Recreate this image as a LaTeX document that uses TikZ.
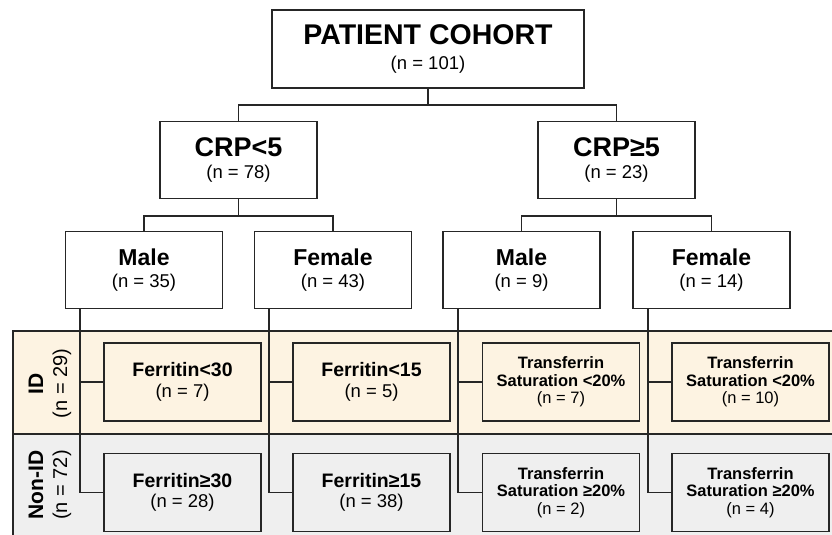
\documentclass[tikz,border=0pt]{standalone}
\usepackage{fontspec}
\setmainfont{Liberation Sans}
\definecolor{linec}{HTML}{262626}
\definecolor{idfill}{HTML}{FDF3E2}
\definecolor{nidfill}{HTML}{EFEFEF}
\newcommand\hdA{\fontsize{28.5}{22}\selectfont\bfseries}
\newcommand\hdB{\fontsize{27}{21}\selectfont\bfseries}
\newcommand\hdC{\fontsize{23}{21.5}\selectfont\bfseries}
\newcommand\hdD{\fontsize{19.5}{19.5}\selectfont\bfseries}
\newcommand\hdE{\fontsize{21}{24}\selectfont\bfseries}
\begin{document}
\begin{tikzpicture}[x=1pt,y=-1pt,
  box/.style={draw=linec, line width=1.8pt, fill=white, minimum width=157, minimum height=77, align=center, inner sep=0pt, text=black},
  topbox/.style={box, minimum width=312, minimum height=78, font=\fontsize{18.5}{22}\selectfont},
  lvlbox/.style={box, font=\fontsize{18.5}{21}\selectfont},
  sexbox/.style={box, font=\fontsize{18.5}{21.5}\selectfont},
  ferbox/.style={box, minimum height=78, font=\fontsize{18.5}{19.5}\selectfont},
  trbox/.style={box, minimum height=78, font=\fontsize{16.5}{17.5}\selectfont},
  idb/.style={fill=idfill},
  nidb/.style={fill=nidfill},
  conn/.style={draw=linec, line width=1.8pt},
  sidelab/.style={rotate=90, align=center, inner sep=0pt, font=\fontsize{20}{24}\selectfont, text=black}
]
\useasboundingbox (0,0) rectangle (832,535);
\fill[white] (0,0) rectangle (832,535);
% bands
\fill[idfill] (13,331) rectangle (832,434);
\fill[nidfill] (13,434) rectangle (832,535);
\draw[conn] (13,535) -- (13,331) -- (832,331);
\draw[conn] (13,434) -- (832,434);

% boxes
\node[topbox] (top) at (428,49) {{\hdA PATIENT COHORT}\\[3pt](n = 101)};
\node[lvlbox] (crpa) at (238.5,160) {{\hdB CRP<5}\\[1.5pt](n = 78)};
\node[lvlbox] (crpb) at (616.5,160) {{\hdB CRP≥5}\\[1.5pt](n = 23)};
\node[sexbox] (ma) at (144,270) {{\hdC Male}\\[1pt](n = 35)};
\node[sexbox] (fa) at (333,270) {{\hdC Female}\\[1pt](n = 43)};
\node[sexbox] (mb) at (521.5,270) {{\hdC Male}\\[1pt](n = 9)};
\node[sexbox] (fb) at (711.5,270) {{\hdC Female}\\[1pt](n = 14)};

\node[ferbox, idb] (ida) at (182.5,382) {{\hdD Ferritin<30}\\[1pt](n = 7)};
\node[ferbox, idb] (idb) at (371.5,382) {{\hdD Ferritin<15}\\[1pt](n = 5)};
\node[trbox, idb] (idc) at (561,382) {{\bfseries Transferrin}\\{\bfseries Saturation <20\%}\\(n = 7)};
\node[trbox, idb] (idd) at (750.5,382) {{\bfseries Transferrin}\\{\bfseries Saturation <20\%}\\(n = 10)};

\node[ferbox, nidb] (nida) at (182.5,492.5) {{\hdD Ferritin≥30}\\[1pt](n = 28)};
\node[ferbox, nidb] (nidb) at (371.5,492.5) {{\hdD Ferritin≥15}\\[1pt](n = 38)};
\node[trbox, nidb] (nidc) at (561,492.5) {{\bfseries Transferrin}\\{\bfseries Saturation ≥20\%}\\(n = 2)};
\node[trbox, nidb] (nidd) at (750.5,492.5) {{\bfseries Transferrin}\\{\bfseries Saturation ≥20\%}\\(n = 4)};

% side labels
\node[sidelab] (labid) at (50,383.5) {{\hdE ID}\\(n = 29)};
\node[sidelab] (labnid) at (50,485) {{\hdE Non-ID}\\(n = 72)};

% connectors
\draw[conn] (top.south) -- ++(0,16) -| (crpa.north);
\draw[conn] (top.south) -- ++(0,16) -| (crpb.north);
\draw[conn] (crpa.south) -- ++(0,16.5) -| (ma.north);
\draw[conn] (crpa.south) -- ++(0,16.5) -| (fa.north);
\draw[conn] (crpb.south) -- ++(0,16.5) -| (mb.north);
\draw[conn] (crpb.south) -- ++(0,16.5) -| (fb.north);

\foreach \s/\a/\b in {ma/ida/nida, fa/idb/nidb, mb/idc/nidc, fb/idd/nidd}{
  \coordinate (\s-d) at ([xshift=15.5]\s.south west);
  \draw[conn] (\s-d) |- (\a.west);
  \draw[conn] (\s-d) |- (\b.west);
}
\end{tikzpicture}
\end{document}
